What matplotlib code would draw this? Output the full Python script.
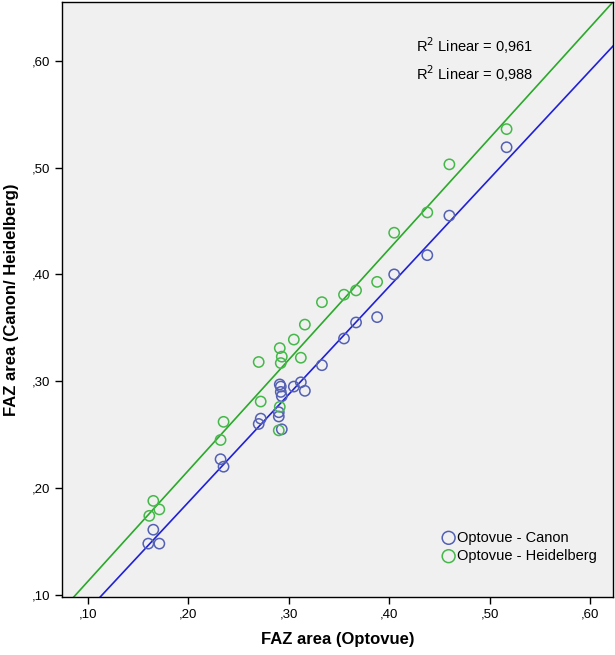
import numpy as np
import matplotlib.pyplot as plt
from matplotlib.ticker import FuncFormatter

plt.rcParams['font.family'] = ['Liberation Sans', 'DejaVu Sans']

# values
optovue_canon = [0.160, 0.165, 0.171, 0.232, 0.235, 0.270, 0.272, 0.291, 0.292, 0.292,
                 0.293, 0.290, 0.290, 0.293, 0.305, 0.312, 0.316, 0.333, 0.355, 0.367,
                 0.388, 0.405, 0.438, 0.460, 0.517]
canon = [0.148, 0.161, 0.148, 0.227, 0.220, 0.260, 0.265, 0.297, 0.295, 0.290,
         0.286, 0.271, 0.267, 0.255, 0.295, 0.299, 0.291, 0.315, 0.340, 0.355,
         0.360, 0.400, 0.418, 0.455, 0.519]

optovue_heid = [0.161, 0.165, 0.171, 0.232, 0.235, 0.270, 0.272, 0.291, 0.293, 0.292,
                0.290, 0.291, 0.305, 0.312, 0.316, 0.333, 0.355, 0.367, 0.388, 0.405,
                0.438, 0.460, 0.517]
heidelberg = [0.174, 0.188, 0.180, 0.245, 0.262, 0.318, 0.281, 0.331, 0.323, 0.317,
              0.254, 0.276, 0.339, 0.322, 0.353, 0.374, 0.381, 0.385, 0.393, 0.439,
              0.458, 0.503, 0.536]

r2_labels = ["0,961", "0,988"]
ticks = [0.10, 0.20, 0.30, 0.40, 0.50, 0.60]

blue_pt = '#5360b4'
green_pt = '#45b84a'
blue_ln = '#2020d8'
green_ln = '#2aa92a'

fig = plt.figure(figsize=(6.15, 6.55), dpi=100)
ax = fig.add_axes([0.1008, 0.0885, 0.8959, 0.9085])
ax.set_facecolor('#f0f0f0')

xlim = (0.074, 0.623)
ylim = (0.098, 0.655)

# regression lines
xs = np.array(xlim)
for xv, yv, c in [(optovue_canon, canon, blue_ln), (optovue_heid, heidelberg, green_ln)]:
    k, b = np.polyfit(xv, yv, 1)
    ax.plot(xs, k * xs + b, color=c, lw=1.2, zorder=2)

ax.scatter(optovue_canon, canon, s=55, facecolors='none', edgecolors=blue_pt,
           linewidths=1.1, label='Optovue - Canon', zorder=3)
ax.scatter(optovue_heid, heidelberg, s=55, facecolors='none', edgecolors=green_pt,
           linewidths=1.1, label='Optovue - Heidelberg', zorder=3)

ax.set_xlim(xlim)
ax.set_ylim(ylim)
ax.set_xticks(ticks)
ax.set_yticks(ticks)
fmt = FuncFormatter(lambda v, p: f"{v:.2f}".lstrip('0').replace('.', ','))
ax.xaxis.set_major_formatter(fmt)
ax.yaxis.set_major_formatter(fmt)
ax.tick_params(direction='out', length=5, width=1, labelsize=9.5, colors='black')

for s in ax.spines.values():
    s.set_color('black')
    s.set_linewidth(1)

ax.text(0.642, 0.927, r"R$^2$ Linear = " + r2_labels[0], transform=ax.transAxes,
        fontsize=10.5, va='center')
ax.text(0.642, 0.880, r"R$^2$ Linear = " + r2_labels[1], transform=ax.transAxes,
        fontsize=10.5, va='center')

ax.legend(loc='lower right', bbox_to_anchor=(0.99, 0.04), frameon=False,
          fontsize=10.5, handletextpad=0.0, borderpad=0.2, labelspacing=0.3,
          handlelength=1.2, markerscale=1.25)

ax.set_xlabel("FAZ area (Optovue)", fontsize=12, fontweight='bold', labelpad=8)
ax.set_ylabel("FAZ area (Canon/ Heidelberg)", fontsize=12, fontweight='bold', labelpad=9)

fig.savefig('out.png', dpi=100)
